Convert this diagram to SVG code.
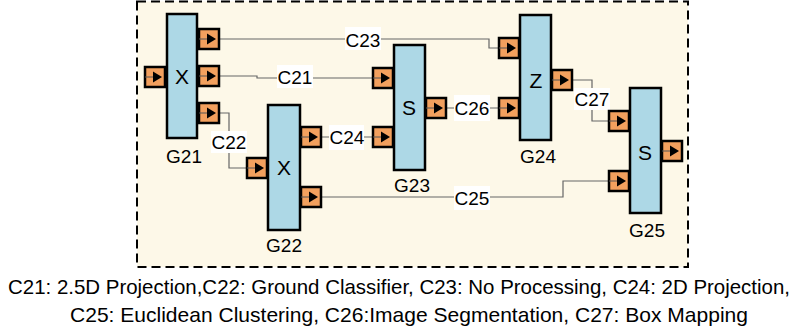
<svg xmlns="http://www.w3.org/2000/svg" width="811" height="334" viewBox="0 0 811 334">
<style>
.blk{fill:#ADD8E6;stroke:#000;stroke-width:2.5}
.port{fill:#F2A05E;stroke:#000;stroke-width:2.5}
.tri{fill:#000}
.pl{stroke:#555;stroke-width:1}
.con{fill:none;stroke:#666;stroke-width:1.2}
.lbg{fill:#fff}
.t{font-family:"Liberation Sans",Arial,sans-serif;font-size:19px;fill:#000;text-anchor:middle}
.big{font-size:21px}
.cap{font-family:"Liberation Sans",Arial,sans-serif;font-size:21px;fill:#000}
</style>
<defs>
<g id="port">
<rect class="port" x="0" y="0" width="20" height="20"/>
<line class="pl" x1="0" y1="10" x2="9" y2="10"/>
<path class="tri" d="M8,4.5 L17,10 L8,15.5 Z"/>
</g>
</defs>
<rect x="137" y="1.5" width="551" height="265.5" fill="#FDF8E8" stroke="#000" stroke-width="2" stroke-dasharray="9,5"/>
<g id="connectors">
<path class="con" d="M219,39 H489 V48 H499"/>
<path class="con" d="M219,76 H257 V78 H373"/>
<path class="con" d="M219,113 H229 V168 H247"/>
<path class="con" d="M321,137 H373"/>
<path class="con" d="M321,197 H563 V181 H609"/>
<path class="con" d="M446,108 H499"/>
<path class="con" d="M572,80 H592 V121 H609"/>
<rect class="lbg" x="345" y="27" width="36" height="23"/>
<text class="t" x="363" y="47">C23</text>
<rect class="lbg" x="277" y="65" width="36" height="23"/>
<text class="t" x="295" y="84">C21</text>
<rect class="lbg" x="211" y="131" width="36" height="22"/>
<text class="t" x="229" y="149">C22</text>
<rect class="lbg" x="329" y="125" width="35" height="25"/>
<text class="t" x="347" y="144">C24</text>
<rect class="lbg" x="454" y="186" width="36" height="24"/>
<text class="t" x="472" y="205">C25</text>
<rect class="lbg" x="454" y="95" width="36" height="26"/>
<text class="t" x="472" y="115">C26</text>
<rect class="lbg" x="574" y="88" width="36" height="22"/>
<text class="t" x="592" y="106">C27</text>
</g>
<g id="G21">
<rect class="blk" x="167" y="14" width="30" height="124"/>
<use href="#port" x="145" y="67"/>
<use href="#port" x="199" y="29"/>
<use href="#port" x="199" y="66"/>
<use href="#port" x="199" y="103"/>
<text class="t big" x="182" y="84">X</text>
<text class="t" x="184" y="163">G21</text>
</g>
<g id="G22">
<rect class="blk" x="268" y="105" width="32" height="125"/>
<use href="#port" x="247" y="158"/>
<use href="#port" x="301" y="127"/>
<use href="#port" x="301" y="187"/>
<text class="t big" x="284" y="175">X</text>
<text class="t" x="284" y="252">G22</text>
</g>
<g id="G23">
<rect class="blk" x="394" y="45" width="31" height="125"/>
<use href="#port" x="373" y="68"/>
<use href="#port" x="373" y="127"/>
<use href="#port" x="426" y="98"/>
<text class="t big" x="409" y="115">S</text>
<text class="t" x="412" y="192">G23</text>
</g>
<g id="G24">
<rect class="blk" x="520" y="15" width="31" height="125"/>
<use href="#port" x="499" y="38"/>
<use href="#port" x="499" y="98"/>
<use href="#port" x="552" y="70"/>
<text class="t big" x="536" y="88">Z</text>
<text class="t" x="538" y="163">G24</text>
</g>
<g id="G25">
<rect class="blk" x="630" y="88" width="31" height="125"/>
<use href="#port" x="609" y="111"/>
<use href="#port" x="609" y="171"/>
<use href="#port" x="662" y="141"/>
<text class="t big" x="645" y="160">S</text>
<text class="t" x="647" y="237">G25</text>
</g>
<text class="cap" x="8" y="294" textLength="782" lengthAdjust="spacingAndGlyphs">C21: 2.5D Projection,C22: Ground Classifier, C23: No Processing, C24: 2D Projection,</text>
<text class="cap" x="70" y="322" textLength="678" lengthAdjust="spacingAndGlyphs">C25: Euclidean Clustering, C26:Image Segmentation, C27: Box Mapping</text>
</svg>
